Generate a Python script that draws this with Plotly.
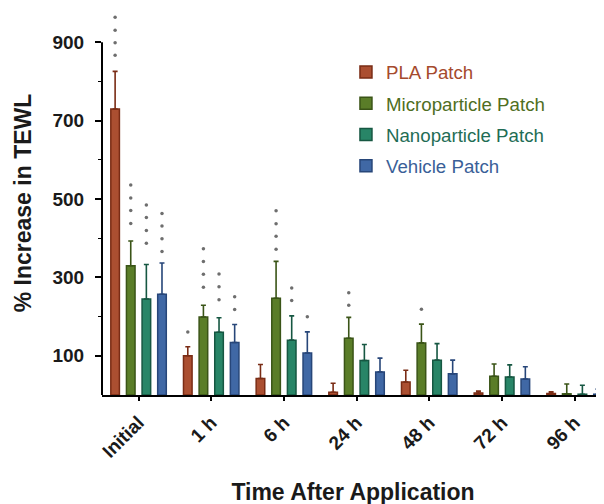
import plotly.graph_objects as go

categories = ["Initial", "1 h", "6 h", "24 h", "48 h", "72 h", "96 h"]

pla = [730, 100, 42, 7, 33, 5, 4]
pla_err = [96, 23, 36, 23, 30, 5, 4]
micro = [330, 199, 247, 145, 133, 48, 3]
micro_err = [63, 30, 94, 53, 48, 31, 25]
nano = [245, 160, 140, 88, 89, 46, 2]
nano_err = [88, 37, 62, 41, 42, 31, 23]
vehicle = [257, 134, 107, 59, 54, 41, 2]
vehicle_err = [80, 46, 54, 35, 35, 31, 13]

# significance dots: per series, per time point, list of dot values
pla_dots = [[867, 899, 931, 964], [161], [], [], [], [], []]
micro_dots = [[438, 471, 503, 536], [275, 308, 341, 373], [372, 405, 437, 470], [229, 261], [219], [], []]
nano_dots = [[387, 420, 453, 485], [243, 276, 309], [241, 273], [], [], [], []]
vehicle_dots = [[366, 399, 431, 463], [218, 251], [200], [], [], [], []]

y_ticks = [100, 300, 500, 700, 900]
y_minor = [200, 400, 600, 800]
y_axis_top = 900

names = ["PLA Patch", "Microparticle Patch", "Nanoparticle Patch", "Vehicle Patch"]
fills = ["#ab4f31", "#5a7d28", "#288567", "#4068a5"]
edges = ["#7a2c15", "#3a5417", "#165742", "#274679"]
text_cols = ["#a54a2d", "#4f6e22", "#1f6d55", "#3a5f98"]

series = [pla, micro, nano, vehicle]
errs = [pla_err, micro_err, nano_err, vehicle_err]
dots = [pla_dots, micro_dots, nano_dots, vehicle_dots]

bargap = 0.14
bargroupgap = 0.45
xpos = list(range(len(categories)))

fig = go.Figure()
for k in range(4):
    fig.add_trace(go.Bar(
        x=xpos, y=series[k], name=f"<span style='color:{text_cols[k]}'>{names[k]}</span>",
        legendgroup=str(k),
        marker=dict(color=fills[k], line=dict(color=edges[k], width=1.5)),
        error_y=dict(type="data", array=errs[k], arrayminus=[0] * len(categories),
                     symmetric=False, color=edges[k], thickness=1.6, width=2.5),
    ))

slot = (1 - bargap) / 4
for k in range(4):
    dx, dy = [], []
    for i, vals in enumerate(dots[k]):
        for v in vals:
            dx.append(i + (k - 1.5) * slot)
            dy.append(v)
    fig.add_trace(go.Scatter(x=dx, y=dy, mode="markers", showlegend=False,
                             marker=dict(color="#6e6e6e", size=3.5), cliponaxis=False,
                             hoverinfo="skip"))

# y axis line only up to the top tick
fig.add_shape(type="line", xref="paper", yref="y", x0=0, x1=0, y0=0, y1=y_axis_top,
              line=dict(color="black", width=2))

font_fam = "Liberation Sans, Arial, sans-serif"
fig.update_layout(
    width=604, height=504,
    margin=dict(l=94, r=8, t=3, b=117),
    plot_bgcolor="white", paper_bgcolor="white",
    barmode="group", bargap=bargap, bargroupgap=bargroupgap,
    font=dict(family=font_fam, color="#1a1a1a"),
    legend=dict(x=0.486, y=0.89, xanchor="left", yanchor="top",
                font=dict(size=18.7, family=font_fam), tracegroupgap=4,
                bgcolor="rgba(0,0,0,0)"),
    xaxis=dict(range=[-0.503, 6.405], tickvals=xpos, ticktext=categories, automargin=False,
               tickangle=-45, ticks="outside", ticklen=4, tickwidth=1.5, tickcolor="black",
               ticklabelstandoff=3,
               showline=True, linewidth=2, linecolor="black", showgrid=False, zeroline=False,
               tickfont=dict(size=19, weight="bold", family=font_fam, color="#1a1a1a"),
               title=dict(text="Time After Application", standoff=23,
                          font=dict(size=23, weight="bold", family=font_fam, color="#1a1a1a"))),
    yaxis=dict(range=[0, 980], tickvals=y_ticks, automargin=False,
               ticks="outside", ticklen=6, tickwidth=1.5, tickcolor="black",
               ticklabelstandoff=7,
               minor=dict(tickvals=y_minor, ticks="outside", ticklen=3,
                          tickwidth=1.2, tickcolor="black"),
               showline=False, showgrid=False, zeroline=False,
               tickfont=dict(size=19, weight="bold", family=font_fam, color="#1a1a1a"),
               title=dict(text="% Increase in TEWL", standoff=14,
                          font=dict(size=23, weight="bold", family=font_fam, color="#1a1a1a"))),
)

fig.write_html("out.html")
